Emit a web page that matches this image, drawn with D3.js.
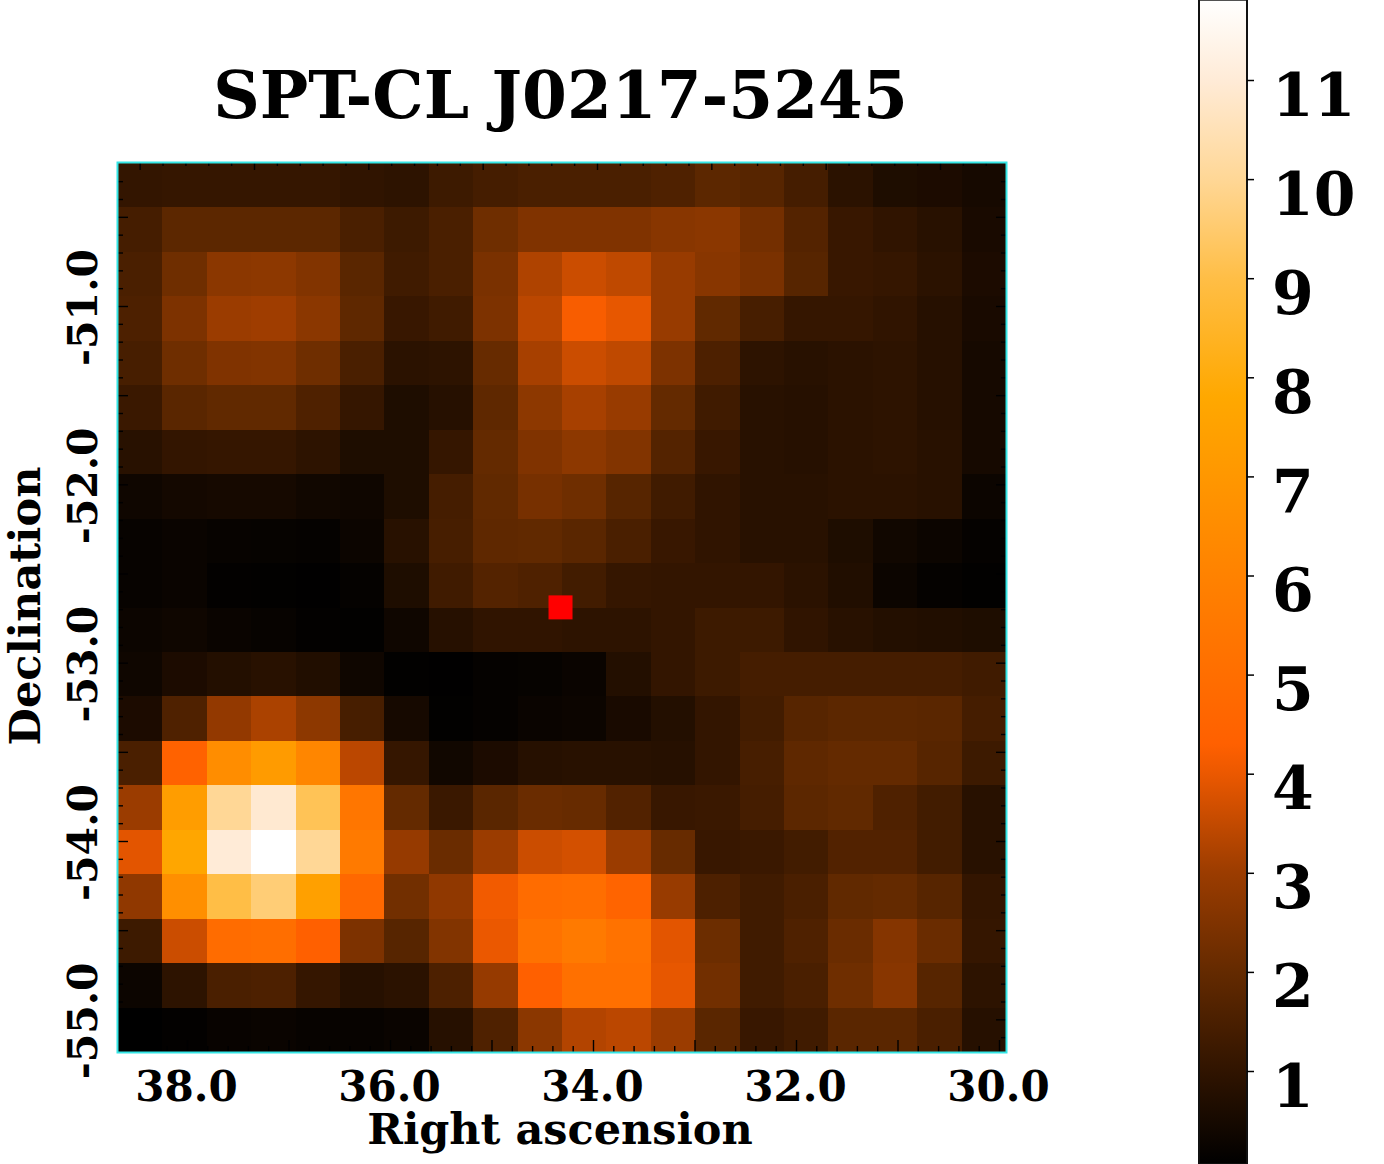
<!DOCTYPE html>
<html>
<head>
<meta charset="utf-8">
<script src="https://cdn.jsdelivr.net/npm/d3@7"></script>
<style>
html, body { margin: 0; padding: 0; background: #fff; overflow: hidden; }
text { font-family: "DejaVu Serif", serif; font-weight: bold; fill: #000; }
</style>
</head>
<body>
<div id="box"></div>
<script>
var titleText = "SPT-CL J0217-5245";
var xLabel = "Right ascension";
var yLabel = "Declination";

// signal per map pixel, top row first, left column first
var fluxRows = [
  [1.05,1.1,1.1,1.1,1.1,1.0,0.95,1.25,1.4,1.5,1.5,1.5,1.6,1.85,1.75,1.4,0.9,0.65,0.6,0.5],
  [1.4,1.85,1.85,1.85,1.85,1.5,1.25,1.5,2.2,2.5,2.5,2.5,2.65,2.7,2.3,1.7,1.15,1.0,0.85,0.55],
  [1.5,2.2,2.7,2.75,2.55,1.8,1.3,1.5,2.4,3.25,3.6,3.45,2.95,2.65,2.4,1.75,1.15,1.1,0.9,0.6],
  [1.55,2.45,3.0,3.05,2.7,1.9,1.15,1.3,2.45,3.4,4.2,3.95,2.95,1.95,1.45,1.1,1.1,1.0,0.8,0.55],
  [1.45,2.2,2.5,2.55,2.2,1.5,0.9,0.95,2.05,3.15,3.6,3.45,2.45,1.55,0.95,0.85,0.9,0.95,0.8,0.5],
  [1.2,1.8,1.95,1.95,1.6,1.1,0.65,0.8,1.9,2.75,3.15,2.95,2.0,1.3,0.85,0.8,0.9,0.95,0.8,0.5],
  [0.85,1.05,1.1,1.1,0.95,0.65,0.65,1.1,2.0,2.5,2.75,2.55,1.7,1.15,0.85,0.8,0.9,0.95,0.85,0.5],
  [0.35,0.45,0.5,0.5,0.4,0.35,0.65,1.4,1.95,2.35,2.2,1.75,1.3,1.0,0.85,0.85,0.9,0.9,0.85,0.3],
  [0.2,0.25,0.2,0.18,0.15,0.3,0.85,1.45,1.9,1.95,1.8,1.5,1.15,1.0,0.85,0.85,0.65,0.4,0.3,0.15],
  [0.2,0.25,0.12,0.1,0.08,0.15,0.65,1.3,1.7,1.6,1.35,1.1,1.05,1.05,1.05,0.9,0.7,0.3,0.15,0.1],
  [0.3,0.35,0.25,0.2,0.12,0.1,0.35,0.8,1.0,1.0,0.95,0.95,1.05,1.25,1.25,1.0,0.85,0.75,0.7,0.65],
  [0.35,0.6,0.75,0.85,0.7,0.35,0.1,0.08,0.15,0.18,0.25,0.75,1.05,1.25,1.4,1.4,1.4,1.4,1.4,1.3],
  [0.6,1.6,2.85,3.2,2.75,1.45,0.5,0.1,0.15,0.25,0.3,0.55,0.75,1.05,1.35,1.75,1.85,1.85,1.8,1.4],
  [1.5,4.4,6.5,7.2,6.2,3.4,1.1,0.4,0.6,0.8,0.85,0.85,0.8,1.05,1.45,1.9,2.0,2.0,1.75,1.25],
  [3.0,7.3,10.0,10.9,9.2,5.4,2.0,1.2,1.8,2.1,2.05,1.65,1.15,1.2,1.4,1.85,1.95,1.6,1.35,0.85],
  [3.9,7.7,11.0,11.8,10.0,5.6,2.9,2.1,3.0,3.6,3.7,3.0,2.05,1.15,1.2,1.35,1.65,1.65,1.35,0.85],
  [2.8,6.6,9.0,9.6,7.4,4.7,2.25,2.8,4.1,4.9,5.0,4.5,2.95,1.55,1.3,1.5,1.95,2.0,1.75,1.05],
  [1.25,3.6,4.9,5.0,4.3,2.45,1.75,2.55,4.0,5.2,5.6,5.2,3.9,2.15,1.3,1.6,2.1,2.6,2.1,1.1],
  [0.3,0.95,1.5,1.55,1.1,0.8,0.9,1.55,2.9,4.3,5.1,5.1,3.95,2.25,1.3,1.5,2.2,2.65,1.75,0.95],
  [0.06,0.12,0.22,0.25,0.2,0.2,0.25,0.8,1.6,2.7,3.3,3.4,3.0,1.8,1.15,1.3,1.8,1.8,1.5,0.8]
];

var raMajor = [38, 37, 36, 35, 34, 33, 32, 31, 30];
var raMinor = [38.4, 38.2, 37.8, 37.6, 37.4, 37.2, 36.8, 36.6, 36.4, 36.2, 35.8, 35.6, 35.4, 35.2, 34.8, 34.6, 34.4, 34.2, 33.8, 33.6, 33.4, 33.2, 32.8, 32.6, 32.4, 32.2, 31.8, 31.6, 31.4, 31.2, 30.8, 30.6, 30.4, 30.2];
var raLabels = [38, 36, 34, 32, 30];
var decMajor = [-50.5, -51, -51.5, -52, -52.5, -53, -53.5, -54, -54.5, -55];
var decMinor = [-50.3, -50.4, -50.6, -50.7, -50.8, -50.9, -51.1, -51.2, -51.3, -51.4, -51.6, -51.7, -51.8, -51.9, -52.1, -52.2, -52.3, -52.4, -52.6, -52.7, -52.8, -52.9, -53.1, -53.2, -53.3, -53.4, -53.6, -53.7, -53.8, -53.9, -54.1, -54.2, -54.3, -54.4, -54.6, -54.7, -54.8, -54.9, -55.1];
var decLabels = [-51, -52, -53, -54, -55];
var barTicks = [1, 2, 3, 4, 5, 6, 7, 8, 9, 10, 11];

var clusterRa = 34.32;
var clusterDec = -52.69;

var colorValues = [0.06, 1, 2, 3, 4, 4.3, 6, 7.8, 9, 10, 11, 11.81];
var colorList = ["#000000", "#301400", "#642a00", "#9b3c00", "#eb5800", "#ff6000", "#ff8200", "#ffa800", "#ffbe46", "#ffd796", "#ffebd7", "#ffffff"];

var width = 1384;
var height = 1164;
var mapLeft = 118, mapRight = 1006, mapTop = 163, mapBottom = 1052;

var svg = d3.select("#box")
  .append("svg")
  .attr("width", width)
  .attr("height", height)
  .style("display", "block");

var color = d3.scaleLinear().domain(colorValues).range(colorList).clamp(true);

var cellX = d3.scaleBand().domain(d3.range(fluxRows[0].length)).range([mapLeft, mapRight]);
var cellY = d3.scaleBand().domain(d3.range(fluxRows.length)).range([mapTop, mapBottom]);

// the sky projection squeezes RA towards the south, so top and bottom scales differ
var raBottom = d3.scaleLinear().domain([34, 30]).range([593, 999]);
var raTop = d3.scaleLinear().domain([34, 31]).range([597, 940]);
var dec = d3.scaleLinear().domain([-51, -54]).range([306, 841]);

// map pixels
svg.append("g")
  .selectAll("g")
  .data(fluxRows)
  .enter()
  .append("g")
  .attr("transform", function(d, i){ return "translate(0," + cellY(i) + ")"; })
  .selectAll("rect")
  .data(function(d){ return d; })
  .enter()
  .append("rect")
  .attr("x", function(d, i){ return cellX(i); })
  .attr("width", cellX.bandwidth() + 0.5)
  .attr("height", cellY.bandwidth() + 0.5)
  .attr("fill", function(d){ return color(d); })
  .attr("shape-rendering", "crispEdges");

// inward ticks on all four sides, major and minor
function ticks(axisFn, scale, values, size, transform){
  var g = svg.append("g")
    .attr("transform", transform)
    .call(axisFn(scale).tickValues(values).tickSize(-size).tickFormat(""));
  g.select(".domain").remove();
  g.selectAll("line").attr("stroke", "#000").attr("stroke-width", 1.4);
}
function insideTop(d){ return raTop(d) > mapLeft && raTop(d) < mapRight; }
ticks(d3.axisBottom, raBottom, raMajor, 12, "translate(0," + mapBottom + ")");
ticks(d3.axisBottom, raBottom, raMinor, 6, "translate(0," + mapBottom + ")");
ticks(d3.axisTop, raTop, raMajor.filter(insideTop), 7, "translate(0," + mapTop + ")");
ticks(d3.axisTop, raTop, raMinor.filter(insideTop), 3, "translate(0," + mapTop + ")");
ticks(d3.axisLeft, dec, decMajor, 10, "translate(" + mapLeft + ",0)");
ticks(d3.axisLeft, dec, decMinor, 5, "translate(" + mapLeft + ",0)");
ticks(d3.axisRight, dec, decMajor, 10, "translate(" + mapRight + ",0)");
ticks(d3.axisRight, dec, decMinor, 5, "translate(" + mapRight + ",0)");

// map frame
svg.append("rect")
  .attr("x", mapLeft - 0.5)
  .attr("y", mapTop - 0.5)
  .attr("width", mapRight - mapLeft + 1)
  .attr("height", mapBottom - mapTop + 1)
  .attr("fill", "none")
  .attr("stroke", "#35e6e6")
  .attr("stroke-width", 2);

// cluster position
svg.append("rect")
  .attr("x", raBottom(clusterRa) - 12)
  .attr("y", dec(clusterDec) - 12)
  .attr("width", 24)
  .attr("height", 24)
  .attr("fill", "#ff0000");

// tick labels
function oneDecimal(d){ return d.toFixed(1); }

var xAxis = svg.append("g")
  .attr("transform", "translate(-1,1086)")
  .call(d3.axisBottom(raBottom).tickValues(raLabels).tickSize(0).tickPadding(0).tickFormat(oneDecimal));
xAxis.select(".domain").remove();
xAxis.selectAll("text")
  .attr("y", 0)
  .attr("dy", "0.36em")
  .style("font-size", "42px")
  .style("font-family", "'DejaVu Serif', serif");

var yAxis = svg.append("g")
  .call(d3.axisLeft(dec).tickValues(decLabels).tickSize(0).tickFormat(oneDecimal));
yAxis.select(".domain").remove();
yAxis.selectAll("text")
  .attr("x", 0)
  .attr("dy", 0)
  .attr("text-anchor", "middle")
  .attr("transform", "translate(97,1) rotate(-90)")
  .style("font-size", "41px")
  .style("font-family", "'DejaVu Serif', serif");

// titles
svg.append("text")
  .attr("x", 560.5)
  .attr("y", 118)
  .attr("text-anchor", "middle")
  .style("font-size", "64.5px")
  .text(titleText);

svg.append("text")
  .attr("x", 560)
  .attr("y", 1144)
  .attr("text-anchor", "middle")
  .style("font-size", "43px")
  .text(xLabel);

svg.append("text")
  .attr("transform", "translate(40,606) rotate(-90)")
  .attr("text-anchor", "middle")
  .style("font-size", "43px")
  .text(yLabel);

// colorbar
var barLeft = 1199, barRight = 1247;
var barScale = d3.scaleLinear().domain([1, 11]).range([1071, 80]);

var grad = svg.append("defs")
  .append("linearGradient")
  .attr("id", "barGrad")
  .attr("x1", 0).attr("x2", 0).attr("y1", 1).attr("y2", 0);
colorValues.forEach(function(v, i){
  grad.append("stop")
    .attr("offset", (v - colorValues[0]) / (colorValues[colorValues.length - 1] - colorValues[0]))
    .attr("stop-color", colorList[i]);
});

svg.append("rect")
  .attr("x", barLeft)
  .attr("y", barScale(colorValues[colorValues.length - 1]))
  .attr("width", barRight - barLeft)
  .attr("height", barScale(colorValues[0]) - barScale(colorValues[colorValues.length - 1]))
  .attr("fill", "url(#barGrad)")
  .attr("stroke", "#111")
  .attr("stroke-width", 2);

var barAxis = svg.append("g")
  .attr("transform", "translate(" + barRight + ",0)")
  .call(d3.axisRight(barScale).tickValues(barTicks).tickSize(7).tickFormat(d3.format("d")));
barAxis.select(".domain").remove();
barAxis.selectAll("line").attr("stroke", "#000").attr("stroke-width", 1.5);
barAxis.selectAll("text")
  .attr("x", 25)
  .attr("dy", 0)
  .attr("y", 35)
  .style("font-size", "60px")
  .style("font-family", "'DejaVu Serif', serif");
</script>
</body>
</html>
